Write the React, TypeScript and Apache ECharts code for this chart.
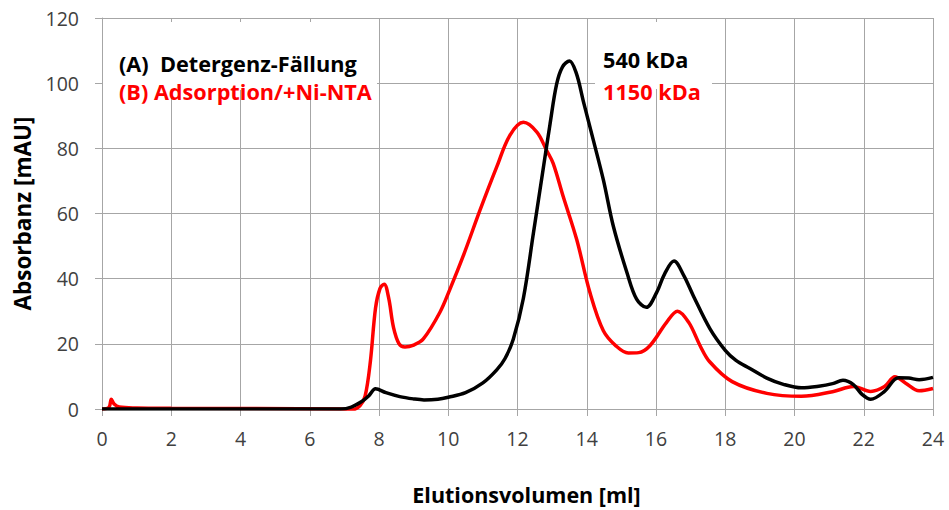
import React, { useEffect, useRef } from "react";
import * as echarts from "echarts";

const xTicks = [0, 2, 4, 6, 8, 10, 12, 14, 16, 18, 20, 22, 24];
const yTicks = [0, 20, 40, 60, 80, 100, 120];

const seriesAName = "(A)  Detergenz-Fällung";
const seriesBName = "(B) Adsorption/+Ni-NTA";
const massA = "540 kDa";
const massB = "1150 kDa";

const xA = [0, 6.9, 7.2, 7.5, 7.7, 7.9, 8.2, 8.6, 9.0, 9.3, 9.7, 10.0, 10.5, 11.0, 11.4, 11.64, 11.88, 12.17, 12.46, 12.75, 12.94, 13.13, 13.3, 13.5, 13.7, 13.9, 14.19, 14.48, 14.77, 15.16, 15.44, 15.72, 16.02, 16.25, 16.52, 16.8, 17.08, 17.56, 18.0, 18.3, 18.7, 19.2, 19.7, 20.2, 20.7, 21.1, 21.4, 21.7, 21.95, 22.2, 22.6, 23.0, 23.3, 23.6, 24];
const yA = [0, 0, 0.6, 2.3, 4, 6.2, 5, 3.8, 3.1, 2.8, 3.0, 3.6, 5, 8, 12, 15.5, 21.5, 34, 54, 74.3, 87.5, 99.7, 105, 106.8, 103, 94.5, 82.5, 70.3, 56, 41.9, 33.7, 31.2, 35.8, 41.5, 45.4, 41, 34.7, 24.6, 18, 15, 12.5, 9.5, 7.5, 6.5, 7, 7.8, 8.8, 7.5, 4.5, 3.0, 5.4, 9.6, 9.5, 9.0, 9.7];

const xB = [0, 0.2, 0.27, 0.35, 0.5, 1.0, 2.0, 6.9, 7.2, 7.45, 7.6, 7.75, 7.9, 8.03, 8.15, 8.28, 8.42, 8.58, 8.75, 9.0, 9.28, 9.76, 10.05, 10.43, 10.92, 11.4, 11.78, 12.17, 12.56, 12.84, 13.03, 13.32, 13.71, 14.09, 14.48, 14.85, 15.2, 15.5, 15.83, 16.3, 16.62, 16.95, 17.27, 17.55, 18.2, 19.2, 20.2, 21.1, 21.7, 22.2, 22.6, 22.9, 23.2, 23.6, 24];
const yB = [0, 0.5, 3.0, 1.5, 0.6, 0.3, 0.2, 0, -0.3, 1, 4, 14.5, 31, 37, 38.3, 34, 25, 20, 19, 19.6, 21.5, 29.7, 36.8, 46.9, 61.1, 74.3, 84, 88, 85, 79.4, 75.4, 65.2, 52, 35.8, 24, 19.3, 17.2, 17.3, 19.5, 26.5, 30, 26.5, 19.5, 14.5, 8.4, 4.8, 3.9, 5.3, 6.9, 5.4, 6.9, 9.9, 8, 5.6, 6.3];

const FONT = "'Open Sans', sans-serif";
const GRID = "#a6a6a6";

export default function App() {
  const ref = useRef<HTMLDivElement>(null);
  useEffect(() => {
    document.body.style.margin = "0";
    document.body.style.overflow = "hidden";
    document.documentElement.style.overflow = "hidden";
    if (!ref.current) return;
    const chart = echarts.init(ref.current, null, { renderer: "svg" });
    const dataA = xA.map((x, i) => [x, yA[i]]);
    const dataB = xB.map((x, i) => [x, yB[i]]);
    chart.setOption({
      animation: false,
      backgroundColor: "#ffffff",
      grid: { left: 102, right: 16, top: 18, bottom: 99 },
      xAxis: {
        type: "value",
        min: xTicks[0],
        max: xTicks[xTicks.length - 1],
        interval: 2,
        name: "Elutionsvolumen [ml]",
        nameLocation: "middle",
        nameGap: 74,
        nameTextStyle: { fontFamily: FONT, fontWeight: "bold", fontSize: 21.5, color: "#000", padding: [0, 0, 0, 18], lineHeight: 22 },
        axisLine: { show: true, lineStyle: { color: GRID, width: 1 } },
        axisTick: { show: true, length: 7, lineStyle: { color: GRID } },
        axisLabel: { fontFamily: FONT, fontSize: 19.5, color: "#404040", margin: 19 },
        splitLine: { show: true, lineStyle: { color: GRID, width: 1 } },
      },
      yAxis: {
        type: "value",
        min: yTicks[0],
        max: yTicks[yTicks.length - 1],
        interval: 20,
        name: "Absorbanz [mAU]",
        nameLocation: "middle",
        nameGap: 68,
        nameTextStyle: { fontFamily: FONT, fontWeight: "bold", fontSize: 22.5, color: "#000" },
        axisLine: { show: true, lineStyle: { color: GRID, width: 1 } },
        axisTick: { show: true, length: 7, lineStyle: { color: GRID } },
        axisLabel: { fontFamily: FONT, fontSize: 19.5, color: "#404040", margin: 23 },
        splitLine: { show: true, lineStyle: { color: GRID, width: 1 } },
      },
      series: [
        {
          name: seriesBName,
          type: "line",
          data: dataB,
          showSymbol: false,
          smooth: 0.35,
          lineStyle: { color: "#ff0000", width: 3.5 },
          z: 2,
        },
        {
          name: seriesAName,
          type: "line",
          data: dataA,
          showSymbol: false,
          smooth: 0.35,
          lineStyle: { color: "#000000", width: 3.5 },
          z: 3,
        },
      ],
      graphic: [
        { type: "rect", left: 103, top: 22, shape: { width: 274, height: 68 }, style: { fill: "#fff" }, z: 10 },
        { type: "rect", left: 595, top: 22, shape: { width: 117, height: 67 }, style: { fill: "#fff" }, z: 10 },
        { type: "text", x: 119, y: 52, style: { text: seriesAName, fill: "#000", font: `bold 21.7px ${FONT}`, textBaseline: "alphabetic" }, z: 11 },
        { type: "text", x: 119, y: 80, style: { text: seriesBName, fill: "#ff0000", font: `bold 21.7px ${FONT}`, textBaseline: "alphabetic" }, z: 11 },
        { type: "text", x: 603, y: 48, style: { text: massA, fill: "#000", font: `bold 21.7px ${FONT}`, textBaseline: "alphabetic" }, z: 11 },
        { type: "text", x: 603, y: 80, style: { text: massB, fill: "#ff0000", font: `bold 21.7px ${FONT}`, textBaseline: "alphabetic" }, z: 11 },
      ],
    });
    return () => chart.dispose();
  }, []);
  return (
    <div
      ref={ref}
      style={{ position: "fixed", left: 0, top: 0, width: 949, height: 510, overflow: "hidden" }}
    />
  );
}
